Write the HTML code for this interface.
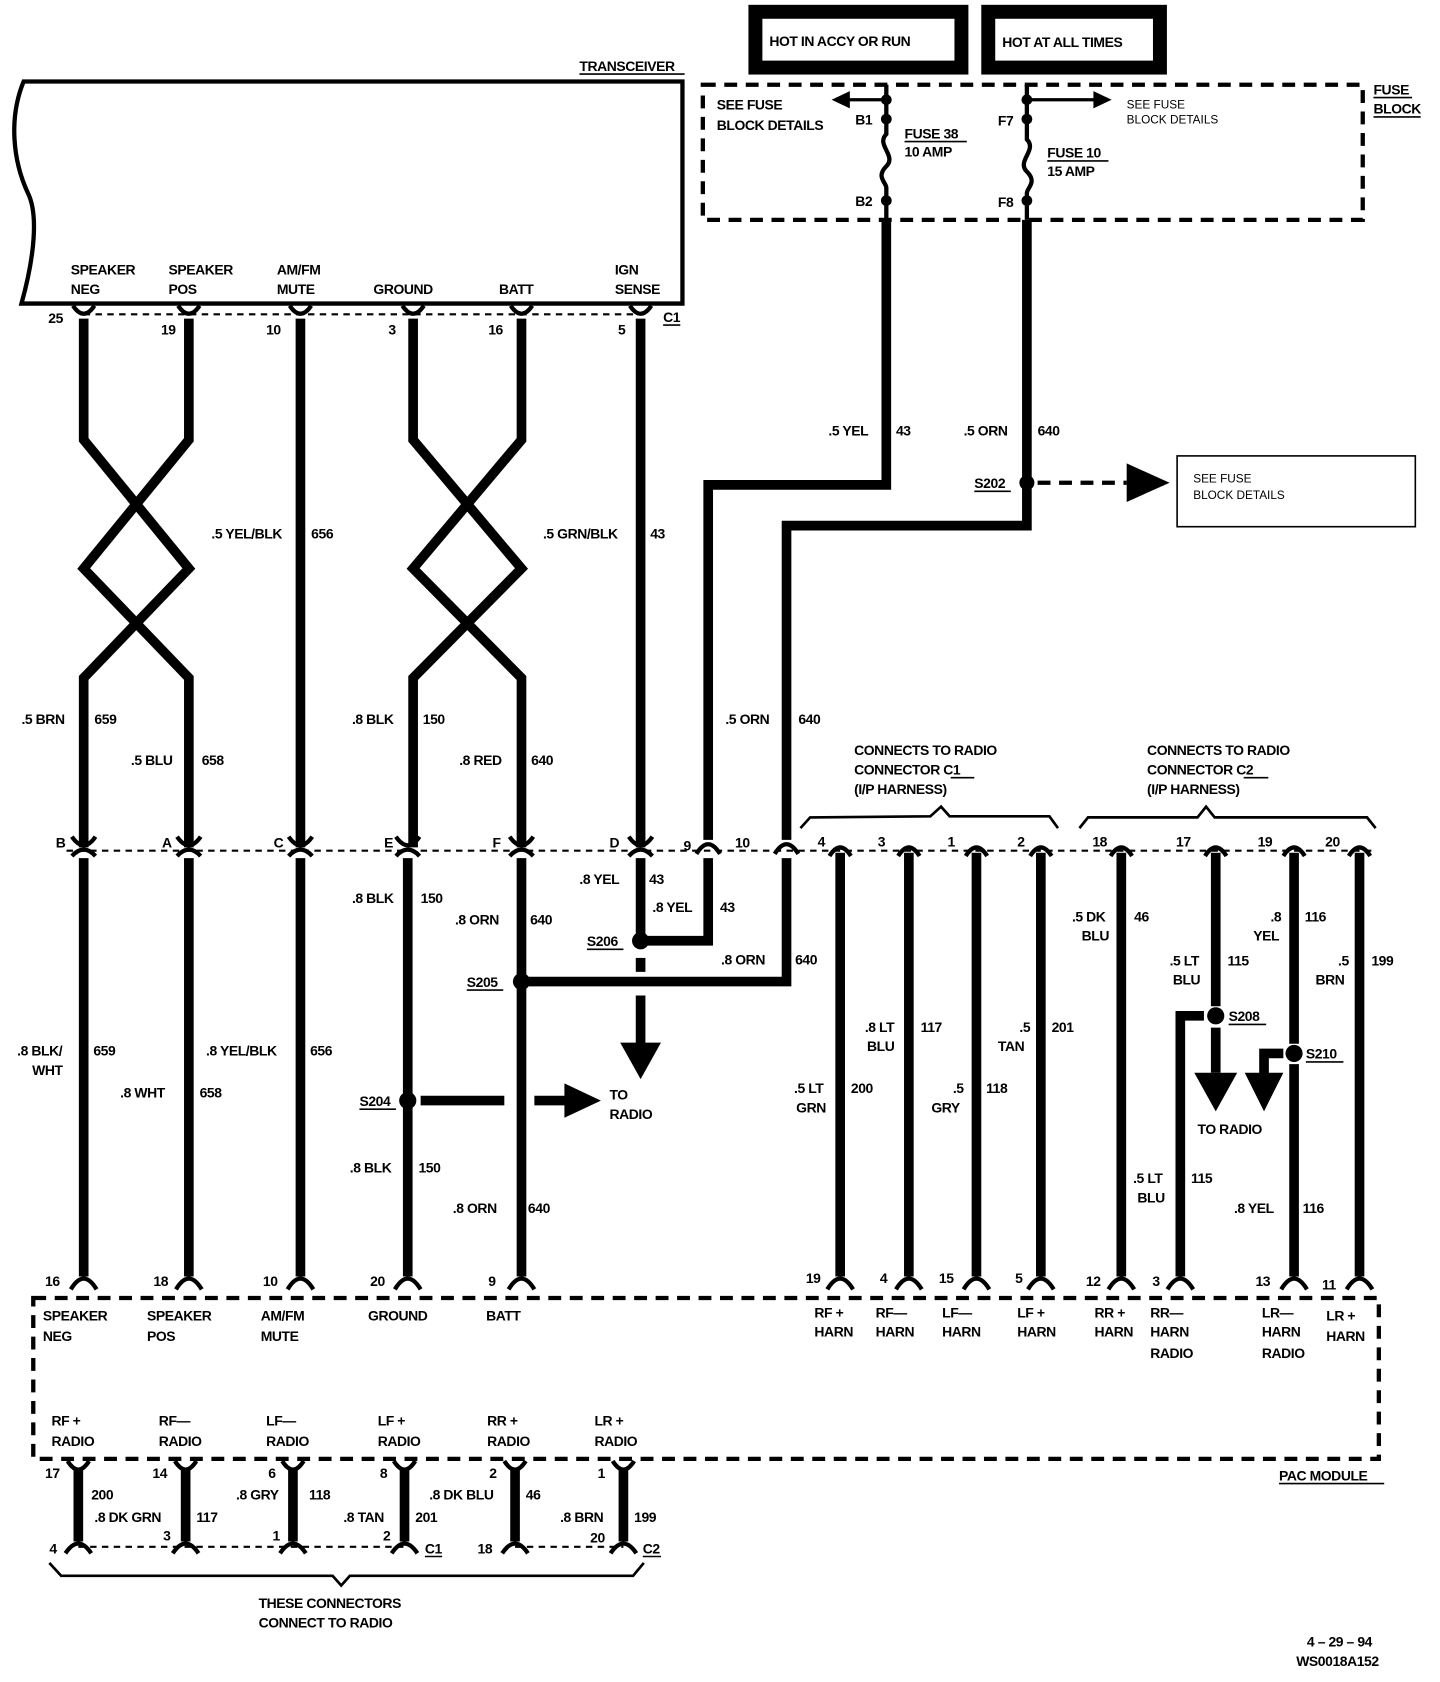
<!DOCTYPE html>
<html><head><meta charset="utf-8"><style>
html,body{margin:0;padding:0;background:#fff;}
svg{display:block;}
text{font-family:"Liberation Sans",sans-serif;font-weight:bold;font-size:13px;fill:#000;letter-spacing:-0.4px;}
.s{font-size:11px;font-weight:normal;letter-spacing:0;}
.w{stroke:#000;stroke-width:9;fill:none;}
.t{stroke:#000;stroke-width:4;fill:none;}
.d{stroke:#000;stroke-width:2;stroke-dasharray:6 5;fill:none;}
.D{stroke:#000;stroke-width:4;stroke-dasharray:12 8;fill:none;}
</style></head><body>
<svg width="1440" height="1682" viewBox="0 0 1342 1568" preserveAspectRatio="none" xmlns="http://www.w3.org/2000/svg">
<!-- header boxes -->
<rect x="704" y="11" width="192" height="52" fill="none" stroke="#000" stroke-width="13"/>
<text x="717" y="43">HOT  IN  ACCY  OR  RUN</text>
<rect x="921" y="11" width="160" height="52" fill="none" stroke="#000" stroke-width="13"/>
<text x="934" y="44">HOT AT ALL TIMES</text>

<!-- transceiver -->
<text x="540" y="66" font-size="12">TRANSCEIVER</text>
<line x1="540" y1="69" x2="638" y2="69" stroke="#000" stroke-width="1.5"/>
<path d="M22,76 L636,76 L636,283 L20,283 C32,240 36,200 26,180 C12,150 8,110 22,76 Z" fill="none" stroke="#000" stroke-width="4"/>
<text x="66" y="256">SPEAKER</text><text x="66" y="274">NEG</text>
<text x="157" y="256">SPEAKER</text><text x="157" y="274">POS</text>
<text x="258" y="256">AM/FM</text><text x="258" y="274">MUTE</text>
<text x="348" y="274">GROUND</text>
<text x="465" y="274">BATT</text>
<text x="573" y="256">IGN</text><text x="573" y="274">SENSE</text>
<line x1="78" y1="293" x2="600" y2="293" class="d"/>
<text x="45" y="301">25</text><text x="150" y="312">19</text><text x="248" y="312">10</text>
<text x="362" y="312">3</text><text x="455" y="312">16</text><text x="576" y="312">5</text>
<text x="618" y="300">C1</text><line x1="618" y1="303" x2="634" y2="303" stroke="#000" stroke-width="1.5"/>

<!-- fuse block -->
<rect x="655" y="79" width="615" height="126" class="D"/>
<text x="1280" y="88">FUSE</text><text x="1280" y="106">BLOCK</text>
<line x1="1280" y1="91" x2="1316" y2="91" stroke="#000" stroke-width="1.5"/>
<line x1="1280" y1="109" x2="1324" y2="109" stroke="#000" stroke-width="1.5"/>
<text x="668" y="102">SEE FUSE</text><text x="668" y="121">BLOCK DETAILS</text>
<text x="1050" y="101" class="s">SEE FUSE</text><text x="1050" y="115" class="s">BLOCK DETAILS</text>
<!-- fuse 38 -->
<path d="M826,79 L826,125 C816,135 836,145 826,155 C816,165 826,170 826,175 L826,205" class="t" stroke-width="2.5"/>
<circle cx="826" cy="93" r="5"/><circle cx="826" cy="111" r="5"/><circle cx="826" cy="187" r="5"/>
<line x1="826" y1="93" x2="790" y2="93" stroke="#000" stroke-width="3"/><path d="M775,93 L792,85 L792,101 Z"/>
<text x="797" y="116">B1</text><text x="797" y="192">B2</text>
<text x="843" y="129">FUSE 38</text><line x1="843" y1="132" x2="901" y2="132" stroke="#000" stroke-width="1.5"/>
<text x="843" y="146">10 AMP</text>
<!-- fuse 10 -->
<path d="M957,79 L957,130 C967,140 947,150 957,160 C967,170 957,175 957,180 L957,205" class="t" stroke-width="2.5"/>
<circle cx="957" cy="93" r="5"/><circle cx="957" cy="111" r="5"/><circle cx="957" cy="187" r="5"/>
<line x1="957" y1="93" x2="1020" y2="93" stroke="#000" stroke-width="3"/><path d="M1036,93 L1019,85 L1019,101 Z"/>
<text x="930" y="117">F7</text><text x="930" y="193">F8</text>
<text x="976" y="147">FUSE 10</text><line x1="976" y1="150" x2="1033" y2="150" stroke="#000" stroke-width="1.5"/>
<text x="976" y="164">15 AMP</text>

<!-- fuse feed wires -->
<path d="M826,205 L826,452 L660,452 L660,783" class="w"/>
<path d="M957,205 L957,490 L733,490 L733,783" class="w"/>
<text x="772" y="406">.5 YEL</text><text x="835" y="406">43</text>
<text x="898" y="406">.5 ORN</text><text x="967" y="406">640</text>
<circle cx="957" cy="450" r="7"/><text x="908" y="455">S202</text><line x1="908" y1="458" x2="942" y2="458" stroke="#000" stroke-width="1.5"/>
<line x1="967" y1="450" x2="1050" y2="450" class="D" stroke-width="9" stroke-dasharray="16 12"/>
<path d="M1090,450 L1050,432 L1050,468 Z"/>
<rect x="1097" y="425" width="222" height="66" fill="none" stroke="#000" stroke-width="1.5"/>
<text x="1112" y="450" class="s">SEE FUSE</text><text x="1112" y="465" class="s">BLOCK DETAILS</text>
<text x="676" y="675">.5 ORN</text><text x="744" y="675">640</text>

<!-- upper wires with crossings -->
<path d="M78,297 L78,410 L176,530 L78,632 L78,790" class="w"/>
<path d="M176,297 L176,410 L78,530 L176,632 L176,790" class="w"/>
<path d="M385,297 L385,410 L486,530 L385,632 L385,790" class="w"/>
<path d="M486,297 L486,410 L385,530 L486,632 L486,790" class="w"/>
<line x1="280" y1="297" x2="280" y2="790" class="w"/>
<line x1="597" y1="297" x2="597" y2="790" class="w"/>
<text x="197" y="502">.5 YEL/BLK</text><text x="290" y="502">656</text>
<text x="506" y="502">.5 GRN/BLK</text><text x="606" y="502">43</text>
<text x="20" y="675">.5 BRN</text><text x="88" y="675">659</text>
<text x="122" y="713">.5 BLU</text><text x="188" y="713">658</text>
<text x="328" y="675">.8 BLK</text><text x="394" y="675">150</text>
<text x="428" y="713">.8 RED</text><text x="495" y="713">640</text>
<g class="t" stroke-width="4">
<path d="M68,285 Q78,300 88,285"/><path d="M166,285 Q176,300 186,285"/><path d="M270,285 Q280,300 290,285"/>
<path d="M375,285 Q385,300 395,285"/><path d="M476,285 Q486,300 496,285"/><path d="M587,285 Q597,300 607,285"/>
</g>

<!-- middle connector row -->
<line x1="62" y1="793" x2="1282" y2="793" class="d"/>
<g class="t" stroke-width="4">
<path d="M67,780 Q78,796 89,780"/><path d="M67,798 Q78,786 89,798"/>
<path d="M165,780 Q176,796 187,780"/><path d="M165,798 Q176,786 187,798"/>
<path d="M269,780 Q280,796 291,780"/><path d="M269,798 Q280,786 291,798"/>
<path d="M369,780 Q380,796 391,780"/><path d="M369,798 Q380,786 391,798"/>
<path d="M475,780 Q486,796 497,780"/><path d="M475,798 Q486,786 497,798"/>
<path d="M586,780 Q597,796 608,780"/><path d="M586,798 Q597,786 608,798"/>
<path d="M649,796 Q660,778 671,796"/><path d="M722,796 Q733,778 744,796"/>
<path d="M773,798 Q783,782 793,798"/><path d="M837,798 Q847,782 857,798"/>
<path d="M900,798 Q910,782 920,798"/><path d="M960,798 Q970,782 980,798"/>
<path d="M1035,798 Q1045,782 1055,798"/><path d="M1123,798 Q1133,782 1143,798"/>
<path d="M1196,798 Q1206,782 1216,798"/><path d="M1257,798 Q1267,782 1277,798"/>
</g>
<text x="52" y="790">B</text><text x="151" y="790">A</text><text x="255" y="790">C</text>
<text x="358" y="790">E</text><text x="459" y="790">F</text><text x="568" y="790">D</text>
<text x="637" y="793">9</text><text x="685" y="790">10</text>
<text x="762" y="789">4</text><text x="818" y="789">3</text><text x="883" y="789">1</text><text x="948" y="789">2</text>
<text x="1018" y="789">18</text><text x="1096" y="789">17</text><text x="1172" y="789">19</text><text x="1235" y="789">20</text>

<!-- braces and labels -->
<text x="796" y="704">CONNECTS TO RADIO</text><text x="796" y="722">CONNECTOR C1</text><text x="796" y="740">(I/P HARNESS)</text>
<line x1="886" y1="725" x2="908" y2="725" stroke="#000" stroke-width="1.5"/>
<text x="1069" y="704">CONNECTS TO RADIO</text><text x="1069" y="722">CONNECTOR C2</text><text x="1069" y="740">(I/P HARNESS)</text>
<line x1="1159" y1="725" x2="1182" y2="725" stroke="#000" stroke-width="1.5"/>
<path d="M746,772 L755,762 L867,761 L877,752 L885,761 L978,761 L986,772" fill="none" stroke="#000" stroke-width="2.5"/>
<path d="M1006,772 L1014,762 L1116,762 L1124,752 L1132,762 L1274,762 L1282,772" fill="none" stroke="#000" stroke-width="2.5"/>

<!-- lower left wires -->
<line x1="78" y1="800" x2="78" y2="1190" class="w"/>
<line x1="176" y1="800" x2="176" y2="1190" class="w"/>
<line x1="280" y1="800" x2="280" y2="1190" class="w"/>
<line x1="380" y1="800" x2="380" y2="1190" class="w"/>
<line x1="486" y1="800" x2="486" y2="1190" class="w"/>
<line x1="597" y1="800" x2="597" y2="878" class="w"/>
<path d="M597,877 L660,877 L660,800" class="w"/>
<path d="M486,915 L733,915 L733,800" class="w"/>
<line x1="597" y1="893" x2="597" y2="906" class="w"/>
<line x1="597" y1="928" x2="597" y2="975" class="w"/>
<path d="M597,1006 L578,972 L616,972 Z"/>
<circle cx="597" cy="877" r="8"/><circle cx="486" cy="915" r="8"/><circle cx="380" cy="1026" r="8"/>
<line x1="392" y1="1026" x2="470" y2="1026" class="w"/>
<line x1="498" y1="1026" x2="528" y2="1026" class="w"/>
<path d="M560,1026 L526,1010 L526,1042 Z"/>
<text x="568" y="1025">TO</text><text x="568" y="1043">RADIO</text>
<text x="547" y="882">S206</text><line x1="547" y1="885" x2="581" y2="885" stroke="#000" stroke-width="1.5"/>
<text x="435" y="920">S205</text><line x1="435" y1="923" x2="469" y2="923" stroke="#000" stroke-width="1.5"/>
<text x="335" y="1031">S204</text><line x1="335" y1="1034" x2="369" y2="1034" stroke="#000" stroke-width="1.5"/>
<text x="540" y="824">.8 YEL</text><text x="605" y="824">43</text>
<text x="608" y="850">.8 YEL</text><text x="671" y="850">43</text>
<text x="672" y="899">.8 ORN</text><text x="741" y="899">640</text>
<text x="328" y="842">.8 BLK</text><text x="392" y="842">150</text>
<text x="424" y="862">.8 ORN</text><text x="494" y="862">640</text>
<text x="16" y="984">.8 BLK/</text><text x="30" y="1002">WHT</text><text x="87" y="984">659</text>
<text x="112" y="1023">.8 WHT</text><text x="186" y="1023">658</text>
<text x="192" y="984">.8 YEL/BLK</text><text x="289" y="984">656</text>
<text x="326" y="1093">.8 BLK</text><text x="390" y="1093">150</text>
<text x="422" y="1131">.8 ORN</text><text x="492" y="1131">640</text>

<!-- lower right wires -->
<line x1="783" y1="795" x2="783" y2="1190" class="w"/>
<line x1="847" y1="795" x2="847" y2="1190" class="w"/>
<line x1="910" y1="795" x2="910" y2="1190" class="w"/>
<line x1="970" y1="795" x2="970" y2="1190" class="w"/>
<line x1="1045" y1="795" x2="1045" y2="1190" class="w"/>
<line x1="1133" y1="795" x2="1133" y2="938" class="w"/>
<path d="M1100,1190 L1100,947 L1122,947" class="w"/>
<circle cx="1133" cy="947" r="8"/>
<line x1="1133" y1="958" x2="1133" y2="1000" class="w"/>
<path d="M1133,1036 L1113,1000 L1153,1000 Z"/>
<line x1="1206" y1="795" x2="1206" y2="973" class="w"/>
<circle cx="1206" cy="982" r="8"/>
<line x1="1206" y1="992" x2="1206" y2="1190" class="w"/>
<path d="M1196,982 L1178,982 L1178,1002" class="w"/>
<path d="M1178,1036 L1160,1000 L1196,1000 Z"/>
<line x1="1267" y1="795" x2="1267" y2="1190" class="w"/>
<text x="1145" y="952">S208</text><line x1="1145" y1="955" x2="1180" y2="955" stroke="#000" stroke-width="1.5"/>
<text x="1217" y="987">S210</text><line x1="1217" y1="990" x2="1252" y2="990" stroke="#000" stroke-width="1.5"/>
<text x="1116" y="1057">TO RADIO</text>
<text x="806" y="962">.8 LT</text><text x="808" y="980">BLU</text><text x="858" y="962">117</text>
<text x="950" y="962">.5</text><text x="930" y="980">TAN</text><text x="980" y="962">201</text>
<text x="740" y="1019">.5 LT</text><text x="742" y="1037">GRN</text><text x="793" y="1019">200</text>
<text x="888" y="1019">.5</text><text x="868" y="1037">GRY</text><text x="919" y="1019">118</text>
<text x="999" y="859">.5 DK</text><text x="1008" y="877">BLU</text><text x="1057" y="859">46</text>
<text x="1090" y="900">.5 LT</text><text x="1093" y="918">BLU</text><text x="1144" y="900">115</text>
<text x="1184" y="859">.8</text><text x="1168" y="877">YEL</text><text x="1216" y="859">116</text>
<text x="1247" y="900">.5</text><text x="1226" y="918">BRN</text><text x="1278" y="900">199</text>
<text x="1056" y="1103">.5 LT</text><text x="1060" y="1121">BLU</text><text x="1110" y="1103">115</text>
<text x="1150" y="1131">.8 YEL</text><text x="1214" y="1131">116</text>

<!-- bottom connector row -->
<g class="t" stroke-width="4">
<path d="M66,1202 Q78,1182 90,1202"/><path d="M164,1202 Q176,1182 188,1202"/><path d="M268,1202 Q280,1182 292,1202"/>
<path d="M368,1202 Q380,1182 392,1202"/><path d="M474,1202 Q486,1182 498,1202"/>
<path d="M771,1202 Q783,1182 795,1202"/><path d="M835,1202 Q847,1182 859,1202"/><path d="M898,1202 Q910,1182 922,1202"/>
<path d="M958,1202 Q970,1182 982,1202"/><path d="M1033,1202 Q1045,1182 1057,1202"/><path d="M1088,1202 Q1100,1182 1112,1202"/>
<path d="M1194,1202 Q1206,1182 1218,1202"/><path d="M1255,1202 Q1267,1182 1279,1202"/>
</g>
<text x="42" y="1199">16</text><text x="143" y="1199">18</text><text x="245" y="1199">10</text><text x="345" y="1199">20</text><text x="455" y="1199">9</text>
<text x="751" y="1196">19</text><text x="820" y="1196">4</text><text x="875" y="1196">15</text><text x="946" y="1196">5</text>
<text x="1012" y="1199">12</text><text x="1074" y="1199">3</text><text x="1170" y="1199">13</text><text x="1232" y="1202">11</text>

<!-- PAC module -->
<rect x="31" y="1210" width="1254" height="150" class="D"/>
<text x="1192" y="1380" font-size="12">PAC MODULE</text><line x1="1192" y1="1383" x2="1290" y2="1383" stroke="#000" stroke-width="1.5"/>
<text x="40" y="1231">SPEAKER</text><text x="40" y="1250">NEG</text>
<text x="137" y="1231">SPEAKER</text><text x="137" y="1250">POS</text>
<text x="243" y="1231">AM/FM</text><text x="243" y="1250">MUTE</text>
<text x="343" y="1231">GROUND</text><text x="453" y="1231">BATT</text>
<text x="759" y="1228">RF +</text><text x="759" y="1246">HARN</text>
<text x="816" y="1228">RF—</text><text x="816" y="1246">HARN</text>
<text x="878" y="1228">LF—</text><text x="878" y="1246">HARN</text>
<text x="948" y="1228">LF +</text><text x="948" y="1246">HARN</text>
<text x="1020" y="1228">RR +</text><text x="1020" y="1246">HARN</text>
<text x="1072" y="1228">RR—</text><text x="1072" y="1246">HARN</text><text x="1072" y="1266">RADIO</text>
<text x="1176" y="1228">LR—</text><text x="1176" y="1246">HARN</text><text x="1176" y="1266">RADIO</text>
<text x="1236" y="1231">LR +</text><text x="1236" y="1250">HARN</text>
<text x="48" y="1329">RF +</text><text x="48" y="1348">RADIO</text>
<text x="148" y="1329">RF—</text><text x="148" y="1348">RADIO</text>
<text x="248" y="1329">LF—</text><text x="248" y="1348">RADIO</text>
<text x="352" y="1329">LF +</text><text x="352" y="1348">RADIO</text>
<text x="454" y="1329">RR +</text><text x="454" y="1348">RADIO</text>
<text x="554" y="1329">LR +</text><text x="554" y="1348">RADIO</text>

<!-- bottom radio connectors -->
<g>
<line x1="73" y1="1368" x2="73" y2="1437" class="w"/><line x1="173" y1="1368" x2="173" y2="1437" class="w"/>
<line x1="273" y1="1368" x2="273" y2="1437" class="w"/><line x1="377" y1="1368" x2="377" y2="1437" class="w"/>
<line x1="480" y1="1368" x2="480" y2="1437" class="w"/><line x1="581" y1="1368" x2="581" y2="1437" class="w"/>
</g>
<g class="t" stroke-width="4">
<path d="M63,1362 Q73,1378 83,1362"/><path d="M163,1362 Q173,1378 183,1362"/><path d="M263,1362 Q273,1378 283,1362"/>
<path d="M367,1362 Q377,1378 387,1362"/><path d="M470,1362 Q480,1378 490,1362"/><path d="M571,1362 Q581,1378 591,1362"/>
<path d="M61,1448 Q73,1430 85,1448"/><path d="M161,1448 Q173,1430 185,1448"/><path d="M261,1448 Q273,1430 285,1448"/>
<path d="M365,1448 Q377,1430 389,1448"/><path d="M468,1448 Q480,1430 492,1448"/><path d="M569,1448 Q581,1430 593,1448"/>
</g>
<line x1="73" y1="1442" x2="377" y2="1442" class="d"/>
<line x1="480" y1="1442" x2="581" y2="1442" class="d"/>
<text x="42" y="1378">17</text><text x="142" y="1378">14</text><text x="250" y="1378">6</text><text x="354" y="1378">8</text><text x="456" y="1378">2</text><text x="557" y="1378">1</text>
<text x="85" y="1398">200</text><text x="88" y="1419">.8 DK GRN</text><text x="183" y="1419">117</text>
<text x="220" y="1398">.8 GRY</text><text x="288" y="1398">118</text>
<text x="320" y="1419">.8 TAN</text><text x="387" y="1419">201</text>
<text x="400" y="1398">.8 DK BLU</text><text x="490" y="1398">46</text>
<text x="522" y="1419">.8 BRN</text><text x="591" y="1419">199</text>
<text x="46" y="1448">4</text><text x="152" y="1436">3</text><text x="254" y="1436">1</text><text x="357" y="1436">2</text>
<text x="445" y="1448">18</text><text x="550" y="1438">20</text>
<text x="396" y="1448">C1</text><line x1="396" y1="1451" x2="412" y2="1451" stroke="#000" stroke-width="1.5"/>
<text x="599" y="1448">C2</text><line x1="599" y1="1451" x2="616" y2="1451" stroke="#000" stroke-width="1.5"/>
<path d="M46,1457 L57,1469 L310,1469 L318,1478 L326,1469 L590,1469 L600,1457" fill="none" stroke="#000" stroke-width="2.5"/>
<text x="241" y="1499">THESE CONNECTORS</text><text x="241" y="1517">CONNECT TO RADIO</text>

<text x="1218" y="1535">4 – 29 – 94</text>
<text x="1208" y="1553">WS0018A152</text>
</svg>
</body></html>
